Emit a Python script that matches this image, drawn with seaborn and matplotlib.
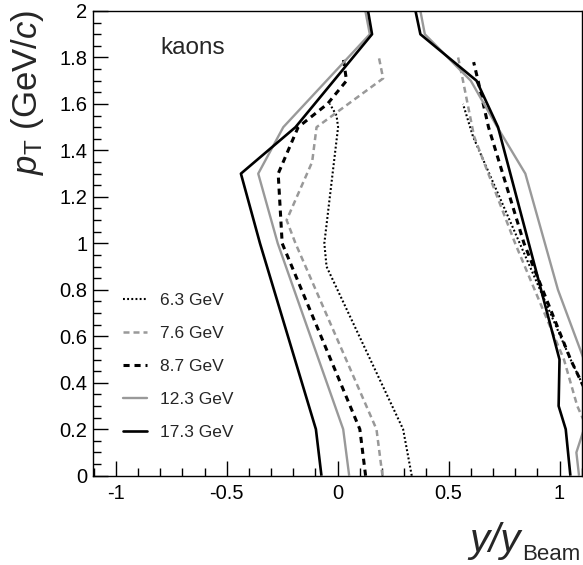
import matplotlib
matplotlib.use("Agg")
import matplotlib.pyplot as plt
import numpy as np
import pandas as pd
import seaborn as sns
from matplotlib.lines import Line2D

# ---------------- data ----------------
energies = ["6.3 GeV", "7.6 GeV", "8.7 GeV", "12.3 GeV", "17.3 GeV"]

# left acceptance boundaries (pT, y/yBeam)
pt_left_63 = [0.0, 0.2, 0.9, 1.0, 1.5, 1.55, 1.6]
y_left_63 = [0.334, 0.295, -0.05, -0.06, 0.002, -0.005, -0.035]

pt_left_76 = [0.0, 0.2, 1.0, 1.1, 1.35, 1.5, 1.71, 1.8]
y_left_76 = [0.202, 0.175, -0.19, -0.23, -0.115, -0.095, 0.205, 0.186]

pt_left_87 = [0.0, 0.2, 1.0, 1.3, 1.5, 1.6, 1.7, 1.8]
y_left_87 = [0.126, 0.10, -0.25, -0.268, -0.178, -0.046, 0.04, 0.025]

pt_left_123 = [0.0, 0.2, 1.0, 1.3, 1.5, 1.9, 2.0]
y_left_123 = [0.052, 0.025, -0.27, -0.358, -0.245, 0.145, 0.125]

pt_left_173 = [0.0, 0.2, 1.0, 1.3, 1.5, 1.9, 2.0]
y_left_173 = [-0.073, -0.098, -0.35, -0.436, -0.19, 0.155, 0.137]

# right acceptance boundaries (pT, y/yBeam)
pt_right_63 = [0.0, 0.2, 0.5, 1.46, 1.6]
y_right_63 = [1.30, 1.20, 1.05, 0.61, 0.565]

pt_right_76 = [0.0, 0.3, 0.5, 1.0, 1.46, 1.7, 1.8]
y_right_76 = [1.22, 1.08, 1.02, 0.80, 0.615, 0.565, 0.543]

pt_right_87 = [0.0, 0.2, 0.5, 1.0, 1.5, 1.7, 1.78]
y_right_87 = [1.30, 1.20, 1.05, 0.84, 0.68, 0.633, 0.613]

pt_right_123 = [0.0, 0.1, 0.2, 0.5, 0.8, 1.3, 1.5, 1.7, 1.9, 2.0]
y_right_123 = [1.088, 1.076, 1.11, 1.11, 0.993, 0.846, 0.72, 0.60, 0.393, 0.373]

pt_right_173 = [0.0, 0.2, 0.3, 0.5, 1.5, 1.7, 1.9, 2.0]
y_right_173 = [1.049, 1.028, 0.996, 1.0, 0.723, 0.626, 0.373, 0.351]

series = {
    "6.3 GeV": (pt_left_63, y_left_63, pt_right_63, y_right_63),
    "7.6 GeV": (pt_left_76, y_left_76, pt_right_76, y_right_76),
    "8.7 GeV": (pt_left_87, y_left_87, pt_right_87, y_right_87),
    "12.3 GeV": (pt_left_123, y_left_123, pt_right_123, y_right_123),
    "17.3 GeV": (pt_left_173, y_left_173, pt_right_173, y_right_173),
}

rows = []
for e in energies:
    pl, yl, pr, yr = series[e]
    for p, y in zip(pl, yl):
        rows.append((e, "left", p, y))
    for p, y in zip(pr, yr):
        rows.append((e, "right", p, y))
df = pd.DataFrame(rows, columns=["energy", "side", "pT", "y"])

# ---------------- styles ----------------
GRAY = "#999999"
styles = {
    "6.3 GeV": dict(color="black", lw=1.5, dashes=(0.9, 1.1)),
    "7.6 GeV": dict(color=GRAY, lw=1.8, dashes=(2.4, 1.6)),
    "8.7 GeV": dict(color="black", lw=2.2, dashes=(2.0, 1.6)),
    "12.3 GeV": dict(color=GRAY, lw=1.7, dashes=None),
    "17.3 GeV": dict(color="black", lw=1.9, dashes=None),
}

sns.set_theme(style="ticks")
plt.rcParams["font.family"] = ["Liberation Sans", "DejaVu Sans"]
plt.rcParams["mathtext.fontset"] = "custom"
plt.rcParams["mathtext.rm"] = "Liberation Sans"
plt.rcParams["mathtext.it"] = "Liberation Sans:italic"

fig = plt.figure(figsize=(5.83, 5.65), dpi=100)
ax = fig.add_axes([92.7 / 583, 1 - 475.7 / 565, (581.7 - 92.7) / 583, (475.7 - 11) / 565])

handles = []
for e in energies:
    st = styles[e]
    for side in ["left", "right"]:
        d = df[(df.energy == e) & (df.side == side)]
        sns.lineplot(data=d, x="y", y="pT", sort=False, estimator=None,
                     ax=ax, color=st["color"], lw=st["lw"], legend=False)
        ln = ax.lines[-1]
        if st["dashes"] is not None:
            ln.set_dashes(st["dashes"])
        ln.set_solid_capstyle("butt")
        ln.set_dash_capstyle("butt")
    h = Line2D([], [], color=st["color"], lw=st["lw"])
    if st["dashes"] is not None:
        h.set_dashes(st["dashes"])
    handles.append(h)

ax.set_xlim(-1.104, 1.099)
ax.set_ylim(0, 2)
ax.set_xlabel("")
ax.set_ylabel("")
ax.set_xticks([-1, -0.5, 0, 0.5, 1])
ax.set_xticklabels(["-1", "-0.5", "0", "0.5", "1"])
ax.set_xticks(np.arange(-1.1, 1.1001, 0.1), minor=True)
ax.set_yticks(np.arange(0, 2.001, 0.2))
ax.set_yticklabels(["0", "0.2", "0.4", "0.6", "0.8", "1", "1.2", "1.4", "1.6", "1.8", "2"])
ax.set_yticks(np.arange(0, 2.001, 0.05), minor=True)
ax.tick_params(axis="both", which="both", direction="in", top=False, right=False,
               colors="black", width=1.0)
ax.tick_params(axis="both", which="major", length=11, labelsize=14.5)
ax.tick_params(axis="both", which="minor", length=5.5)
ax.tick_params(axis="x", which="major", pad=6)
ax.tick_params(axis="y", which="major", pad=4)
for s in ax.spines.values():
    s.set_color("black")
    s.set_linewidth(1.0)

ax.text(-0.652, 1.84, "kaons", fontsize=17.5, ha="center", va="center")

leg = ax.legend(handles, energies, loc="upper left", frameon=False,
                bbox_to_anchor=(122.5 / 583, 1 - 293 / 565), bbox_transform=fig.transFigure,
                fontsize=12.5, handlelength=1.4, handletextpad=0.75, labelspacing=1.02,
                borderpad=0, borderaxespad=0)

fig.text(28 / 583, 1 - 10 / 565, r"$p_{\mathrm{T}}$ (GeV/$c$)", rotation=90,
         ha="center", va="top", fontsize=25)
fig.text(521 / 583, 1 - 552 / 565, "y/y", ha="right", va="baseline",
         fontsize=29, fontstyle="italic")
fig.text(580 / 583, 1 - 560 / 565, "Beam", ha="right", va="baseline", fontsize=16)

fig.savefig("out.png", dpi=100)
